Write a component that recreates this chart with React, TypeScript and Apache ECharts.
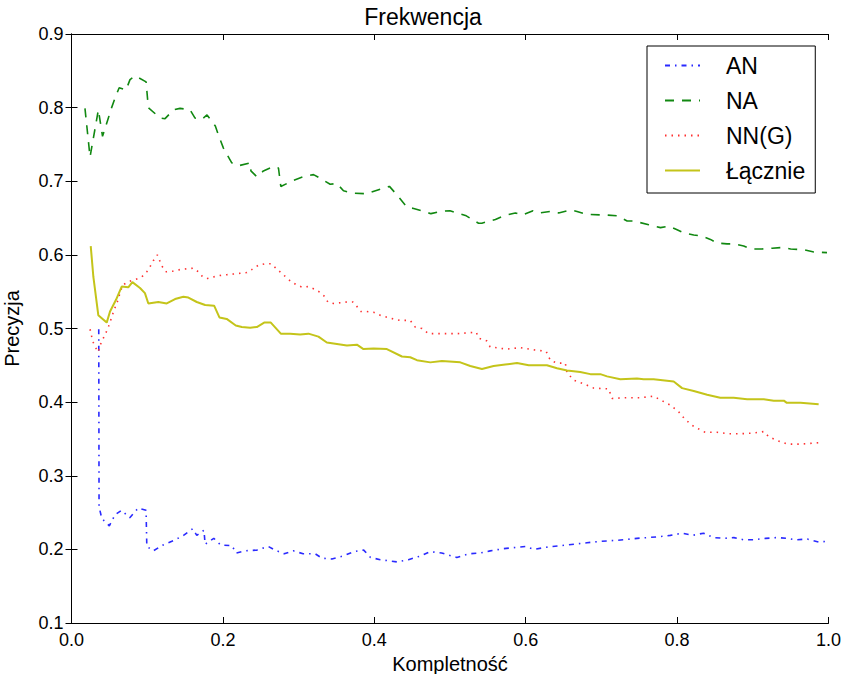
import React, { useEffect, useRef } from "react";
import * as echarts from "echarts";

const seriesNames = ["AN", "NA", "NN(G)", "Łącznie"];
const xTicks = [0, 0.2, 0.4, 0.6, 0.8, 1.0];
const yTicks = [0.1, 0.2, 0.3, 0.4, 0.5, 0.6, 0.7, 0.8, 0.9];

const anPoints: [number, number][] = [
  [0.036, 0.499], [0.0364, 0.258], [0.040, 0.242], [0.050, 0.232], [0.0575, 0.247], [0.066, 0.253],
  [0.077, 0.243], [0.088, 0.256], [0.0985, 0.253], [0.0995, 0.204], [0.108, 0.198], [0.121, 0.206],
  [0.135, 0.212], [0.148, 0.219], [0.160, 0.228], [0.1655, 0.219], [0.175, 0.226], [0.1765, 0.207],
  [0.188, 0.215], [0.197, 0.206], [0.212, 0.205], [0.2175, 0.195], [0.229, 0.198], [0.245, 0.199],
  [0.260, 0.204], [0.269, 0.199], [0.281, 0.194], [0.293, 0.198], [0.306, 0.194], [0.322, 0.194],
  [0.331, 0.188], [0.344, 0.187], [0.359, 0.191], [0.373, 0.197], [0.386, 0.199], [0.395, 0.189],
  [0.408, 0.186], [0.430, 0.183], [0.445, 0.186], [0.461, 0.191], [0.474, 0.197], [0.489, 0.195],
  [0.509, 0.189], [0.525, 0.194], [0.540, 0.195], [0.553, 0.198], [0.571, 0.201], [0.600, 0.204],
  [0.611, 0.200], [0.628, 0.203], [0.655, 0.206], [0.681, 0.209], [0.699, 0.211], [0.716, 0.212],
  [0.729, 0.213], [0.747, 0.215], [0.774, 0.217], [0.791, 0.219], [0.807, 0.222], [0.820, 0.219],
  [0.835, 0.222], [0.848, 0.216], [0.862, 0.215], [0.875, 0.216], [0.888, 0.213], [0.901, 0.213],
  [0.917, 0.215], [0.932, 0.216], [0.945, 0.215], [0.956, 0.213], [0.972, 0.214], [0.987, 0.210],
  [1.0, 0.211],
];

const naPoints: [number, number][] = [
  [0.0178, 0.799], [0.0245, 0.733], [0.0355, 0.797], [0.041, 0.761], [0.0487, 0.786], [0.053, 0.800],
  [0.0575, 0.813], [0.063, 0.827], [0.072, 0.824], [0.0773, 0.838], [0.084, 0.843], [0.088, 0.841],
  [0.0985, 0.835], [0.1015, 0.800], [0.117, 0.786], [0.1236, 0.785], [0.1346, 0.797], [0.1434, 0.799],
  [0.1566, 0.797], [0.163, 0.786], [0.172, 0.784], [0.179, 0.790], [0.190, 0.775], [0.194, 0.763],
  [0.2007, 0.745], [0.2117, 0.725], [0.2205, 0.721], [0.236, 0.725], [0.237, 0.714], [0.245, 0.706],
  [0.2535, 0.714], [0.2668, 0.720], [0.2734, 0.718], [0.2765, 0.693], [0.293, 0.701], [0.306, 0.706],
  [0.3197, 0.709], [0.3285, 0.704], [0.3417, 0.696], [0.3506, 0.697], [0.3593, 0.687], [0.3704, 0.684],
  [0.390, 0.683], [0.410, 0.690], [0.420, 0.693], [0.432, 0.679], [0.443, 0.665], [0.452, 0.663],
  [0.4748, 0.656], [0.487, 0.659], [0.500, 0.660], [0.5215, 0.653], [0.5377, 0.643], [0.542, 0.643],
  [0.560, 0.648], [0.5708, 0.653], [0.5863, 0.657], [0.595, 0.654], [0.6097, 0.660], [0.619, 0.657],
  [0.6325, 0.659], [0.6435, 0.657], [0.659, 0.661], [0.6678, 0.659], [0.681, 0.655], [0.7075, 0.654],
  [0.7207, 0.653], [0.734, 0.646], [0.7426, 0.646], [0.7625, 0.641], [0.778, 0.637], [0.789, 0.639],
  [0.800, 0.634], [0.8088, 0.630], [0.822, 0.627], [0.831, 0.626], [0.844, 0.621], [0.853, 0.616],
  [0.866, 0.615], [0.875, 0.615], [0.888, 0.612], [0.897, 0.608], [0.912, 0.608], [0.9256, 0.609],
  [0.939, 0.610], [0.950, 0.608], [0.9674, 0.607], [0.9806, 0.604], [0.998, 0.603],
];

const nngPoints: [number, number][] = [
  [0.0245, 0.499], [0.0267, 0.489], [0.0288, 0.481], [0.0324, 0.473], [0.0354, 0.468], [0.0368, 0.475],
  [0.0412, 0.485], [0.045, 0.493], [0.0487, 0.502], [0.053, 0.515], [0.0566, 0.526], [0.0605, 0.536],
  [0.064, 0.548], [0.0677, 0.559], [0.076, 0.564], [0.0853, 0.567], [0.0928, 0.570], [0.0994, 0.577],
  [0.1038, 0.584], [0.108, 0.592], [0.1134, 0.600], [0.117, 0.591], [0.1205, 0.583], [0.125, 0.577],
  [0.1346, 0.578], [0.1434, 0.580], [0.152, 0.581], [0.161, 0.582], [0.1676, 0.577], [0.1734, 0.570],
  [0.1795, 0.568], [0.1874, 0.570], [0.196, 0.572], [0.205, 0.573], [0.2139, 0.574], [0.2227, 0.575],
  [0.2316, 0.576], [0.238, 0.580], [0.247, 0.586], [0.2558, 0.588], [0.2637, 0.588], [0.270, 0.582],
  [0.2765, 0.576], [0.2831, 0.570], [0.2897, 0.564], [0.2977, 0.559], [0.305, 0.556], [0.313, 0.557],
  [0.322, 0.553], [0.3285, 0.549], [0.335, 0.543], [0.3386, 0.536], [0.346, 0.534], [0.355, 0.535],
  [0.3638, 0.536], [0.3717, 0.536], [0.377, 0.530], [0.382, 0.523], [0.390, 0.523], [0.399, 0.522],
  [0.4078, 0.518], [0.421, 0.514], [0.4342, 0.511], [0.4474, 0.511], [0.454, 0.502], [0.463, 0.500],
  [0.4717, 0.493], [0.487, 0.493], [0.509, 0.493], [0.5347, 0.495], [0.5377, 0.487], [0.5488, 0.483],
  [0.553, 0.475], [0.575, 0.472], [0.593, 0.474], [0.6105, 0.471], [0.627, 0.469], [0.6325, 0.457],
  [0.641, 0.453], [0.6523, 0.453], [0.6546, 0.440], [0.6633, 0.430], [0.6765, 0.425], [0.690, 0.419],
  [0.7096, 0.418], [0.714, 0.405], [0.734, 0.406], [0.7515, 0.406], [0.769, 0.408], [0.780, 0.402],
  [0.791, 0.396], [0.802, 0.387], [0.811, 0.376], [0.822, 0.367], [0.837, 0.359], [0.853, 0.359],
  [0.868, 0.357], [0.8835, 0.357], [0.901, 0.358], [0.9145, 0.360], [0.921, 0.353], [0.932, 0.348],
  [0.9454, 0.343], [0.963, 0.343], [0.976, 0.344], [0.9894, 0.345],
];

const totalPoints: [number, number][] = [
  [0.0254, 0.612], [0.0289, 0.570], [0.0354, 0.518], [0.0465, 0.508], [0.0509, 0.523], [0.0588, 0.539],
  [0.0663, 0.557], [0.075, 0.556], [0.0804, 0.563], [0.0905, 0.555], [0.097, 0.548], [0.1015, 0.534],
  [0.1147, 0.536], [0.1258, 0.534], [0.1368, 0.540], [0.1478, 0.543], [0.1544, 0.542], [0.1655, 0.536],
  [0.1765, 0.532], [0.1884, 0.531], [0.1954, 0.515], [0.205, 0.513], [0.217, 0.504], [0.225, 0.502],
  [0.236, 0.501], [0.2448, 0.502], [0.2545, 0.508], [0.2633, 0.508], [0.2765, 0.493], [0.2888, 0.493],
  [0.302, 0.492], [0.313, 0.493], [0.3262, 0.489], [0.3373, 0.481], [0.3506, 0.479], [0.3638, 0.477],
  [0.377, 0.478], [0.3857, 0.472], [0.399, 0.473], [0.4166, 0.472], [0.4365, 0.462], [0.4475, 0.461],
  [0.4563, 0.457], [0.474, 0.454], [0.4893, 0.456], [0.5136, 0.454], [0.5268, 0.449], [0.5422, 0.445],
  [0.5576, 0.449], [0.573, 0.451], [0.5885, 0.453], [0.604, 0.450], [0.628, 0.450], [0.6414, 0.446],
  [0.6546, 0.443], [0.672, 0.441], [0.6854, 0.438], [0.6986, 0.438], [0.7075, 0.435], [0.725, 0.431],
  [0.747, 0.432], [0.7558, 0.431], [0.769, 0.431], [0.7955, 0.428], [0.8066, 0.419], [0.822, 0.415],
  [0.8397, 0.410], [0.857, 0.406], [0.8748, 0.406], [0.8925, 0.404], [0.9145, 0.404], [0.9277, 0.402],
  [0.941, 0.402], [0.945, 0.399], [0.963, 0.399], [0.987, 0.397],
];

const FONT = "'Liberation Sans', Arial, Helvetica, sans-serif";

export default function App() {
  const ref = useRef<HTMLDivElement>(null);
  useEffect(() => {
    if (!ref.current) return;
    const chart = echarts.init(ref.current, undefined, { renderer: "svg" });
    const axisLine = { show: true, lineStyle: { color: "#000", width: 1 } };
    const tick = { show: true, inside: true, length: 6, lineStyle: { color: "#000", width: 1 } };
    const fmt = (v: number) => v.toFixed(1);
    chart.setOption({
      animation: false,
      backgroundColor: "#fff",
      textStyle: { fontFamily: FONT },
      title: {
        text: "Frekwencja",
        left: "center",
        top: 0,
        textStyle: { fontSize: 23, fontWeight: "normal", color: "#000", fontFamily: FONT },
      },
      grid: {
        left: 71.5,
        right: 17.5,
        top: 34,
        bottom: 51,
        containLabel: false,
        outerBoundsMode: "none",
      },
      legend: {
        orient: "vertical",
        left: 647,
        top: 46,
        data: seriesNames,
        itemWidth: 35,
        itemHeight: 14,
        itemGap: 12,
        padding: [8, 10, 11, 17],
        borderColor: "#000",
        borderWidth: 1,
        borderRadius: 0,
        backgroundColor: "#fff",
        itemStyle: { opacity: 0, color: "rgba(0,0,0,0)", borderWidth: 0 },
        textStyle: { fontSize: 23, color: "#000", fontFamily: FONT, padding: [0, 0, 0, 21] },
      },
      xAxis: [
        {
          type: "value",
          min: xTicks[0],
          max: xTicks[xTicks.length - 1],
          interval: 0.2,
          position: "bottom",
          axisLine,
          axisTick: tick,
          splitLine: { show: false },
          axisLabel: { formatter: fmt, fontSize: 18, color: "#000", margin: 8, fontFamily: FONT },
          name: "Kompletność",
          nameLocation: "middle",
          nameGap: 26,
          nameTextStyle: { fontSize: 20, color: "#000", fontFamily: FONT },
        },
        {
          type: "value",
          min: xTicks[0],
          max: xTicks[xTicks.length - 1],
          interval: 0.2,
          position: "top",
          axisLine,
          axisTick: tick,
          splitLine: { show: false },
          axisLabel: { show: false },
        },
      ],
      yAxis: [
        {
          type: "value",
          min: yTicks[0],
          max: yTicks[yTicks.length - 1],
          interval: 0.1,
          position: "left",
          axisLine,
          axisTick: tick,
          splitLine: { show: false },
          axisLabel: { formatter: fmt, fontSize: 18, color: "#000", margin: 8, fontFamily: FONT },
          name: "Precyzja",
          nameLocation: "middle",
          nameGap: 50,
          nameTextStyle: { fontSize: 20, color: "#000", fontFamily: FONT },
        },
        {
          type: "value",
          min: yTicks[0],
          max: yTicks[yTicks.length - 1],
          interval: 0.1,
          position: "right",
          axisLine,
          axisTick: tick,
          splitLine: { show: false },
          axisLabel: { show: false },
        },
      ],
      series: [
        {
          name: seriesNames[0],
          type: "line",
          data: anPoints,
          symbol: "none",
          showSymbol: false,
          lineStyle: { color: "#2a2aff", width: 1.6, type: [5, 5, 1.5, 5] },
          itemStyle: { color: "#2a2aff" },
        },
        {
          name: seriesNames[1],
          type: "line",
          data: naPoints,
          symbol: "none",
          showSymbol: false,
          lineStyle: { color: "#118811", width: 1.6, type: [9, 8] },
          itemStyle: { color: "#118811" },
        },
        {
          name: seriesNames[2],
          type: "line",
          data: nngPoints,
          symbol: "none",
          showSymbol: false,
          lineStyle: { color: "#ff3030", width: 1.6, type: [1.5, 5] },
          itemStyle: { color: "#ff3030" },
        },
        {
          name: seriesNames[3],
          type: "line",
          data: totalPoints,
          symbol: "none",
          showSymbol: false,
          lineStyle: { color: "#c4c41a", width: 2 },
          itemStyle: { color: "#c4c41a" },
        },
      ],
    });
    return () => chart.dispose();
  }, []);
  return (
    <div
      ref={ref}
      style={{ position: "absolute", left: 0, top: 0, width: 846, height: 674 }}
    />
  );
}
